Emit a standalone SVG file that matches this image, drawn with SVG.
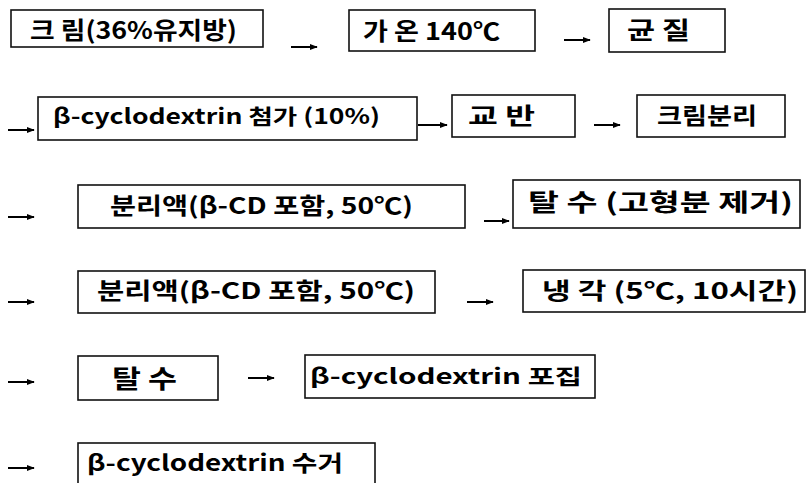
<svg xmlns="http://www.w3.org/2000/svg" width="809" height="483" viewBox="0 0 809 483">
<defs>
<style>
.box{fill:#fff;stroke:#111;stroke-width:1.6}
.t{font-family:"Noto Sans CJK KR","Noto Sans",sans-serif;font-weight:bold;fill:#000}
.a{stroke:#000;stroke-width:2;fill:none}
</style>
<marker id="ah" viewBox="0 0 10 10" refX="9" refY="5" markerWidth="8" markerHeight="8" markerUnits="userSpaceOnUse" orient="auto">
<path d="M0,1 L10,5 L0,9 z" fill="#000"/>
</marker>
</defs>
<rect width="809" height="483" fill="#fff"/>
<g id="connectors">
<line class="a" x1="291" y1="47" x2="317" y2="47" marker-end="url(#ah)"/>
<line class="a" x1="564" y1="40" x2="590" y2="40" marker-end="url(#ah)"/>
<line class="a" x1="8" y1="130" x2="34" y2="130" marker-end="url(#ah)"/>
<line class="a" x1="418" y1="125" x2="447" y2="125" marker-end="url(#ah)"/>
<line class="a" x1="594" y1="125" x2="620" y2="125" marker-end="url(#ah)"/>
<line class="a" x1="8" y1="217" x2="34" y2="217" marker-end="url(#ah)"/>
<line class="a" x1="484" y1="221" x2="509" y2="221" marker-end="url(#ah)"/>
<line class="a" x1="8" y1="302" x2="34" y2="302" marker-end="url(#ah)"/>
<line class="a" x1="467" y1="302" x2="493" y2="302" marker-end="url(#ah)"/>
<line class="a" x1="8" y1="382" x2="34" y2="382" marker-end="url(#ah)"/>
<line class="a" x1="248" y1="378" x2="274" y2="378" marker-end="url(#ah)"/>
<line class="a" x1="8" y1="468" x2="34" y2="468" marker-end="url(#ah)"/>
</g>
<g id="n1"><rect class="box" x="11" y="10" width="252" height="37"/><text class="t" x="30" y="39" font-size="24" textLength="207" lengthAdjust="spacingAndGlyphs">크 림(36%유지방)</text></g>
<g id="n2"><rect class="box" x="349" y="10" width="186" height="41"/><text class="t" x="363" y="40" font-size="24" textLength="137" lengthAdjust="spacingAndGlyphs">가 온 140℃</text></g>
<g id="n3"><rect class="box" x="609" y="9" width="116" height="43"/><text class="t" x="627" y="39" font-size="24" textLength="63" lengthAdjust="spacingAndGlyphs">균 질</text></g>
<g id="n4"><rect class="box" x="38" y="97" width="379" height="43"/><text class="t" x="53" y="124" font-size="21" textLength="327" lengthAdjust="spacingAndGlyphs">β-cyclodextrin 첨가 (10%)</text></g>
<g id="n5"><rect class="box" x="452" y="95" width="123" height="42"/><text class="t" x="468" y="124" font-size="23" textLength="67" lengthAdjust="spacingAndGlyphs">교 반</text></g>
<g id="n6"><rect class="box" x="637" y="95" width="148" height="42"/><text class="t" x="657" y="124" font-size="23" textLength="100" lengthAdjust="spacingAndGlyphs">크림분리</text></g>
<g id="n7"><rect class="box" x="78" y="185" width="387" height="43"/><text class="t" x="110" y="214" font-size="23" textLength="303" lengthAdjust="spacingAndGlyphs">분리액(β-CD 포함, 50℃)</text></g>
<g id="n8"><rect class="box" x="513" y="180" width="287" height="48"/><text class="t" x="528" y="211" font-size="24" textLength="265" lengthAdjust="spacingAndGlyphs">탈 수 (고형분 제거)</text></g>
<g id="n9"><rect class="box" x="78" y="271" width="357" height="42"/><text class="t" x="97" y="299" font-size="23" textLength="318" lengthAdjust="spacingAndGlyphs">분리액(β-CD 포함, 50℃)</text></g>
<g id="n10"><rect class="box" x="523" y="270" width="282" height="42"/><text class="t" x="542" y="299" font-size="23" textLength="256" lengthAdjust="spacingAndGlyphs">냉 각 (5℃, 10시간)</text></g>
<g id="n11"><rect class="box" x="78" y="356" width="140" height="44"/><text class="t" x="112" y="388" font-size="25" textLength="65" lengthAdjust="spacingAndGlyphs">탈 수</text></g>
<g id="n12"><rect class="box" x="305" y="355" width="290" height="43"/><text class="t" x="310" y="384" font-size="21" textLength="272" lengthAdjust="spacingAndGlyphs">β-cyclodextrin 포집</text></g>
<g id="n13"><rect class="box" x="78" y="443" width="297" height="42"/><text class="t" x="87" y="471" font-size="22" textLength="256" lengthAdjust="spacingAndGlyphs">β-cyclodextrin 수거</text></g>
</svg>
